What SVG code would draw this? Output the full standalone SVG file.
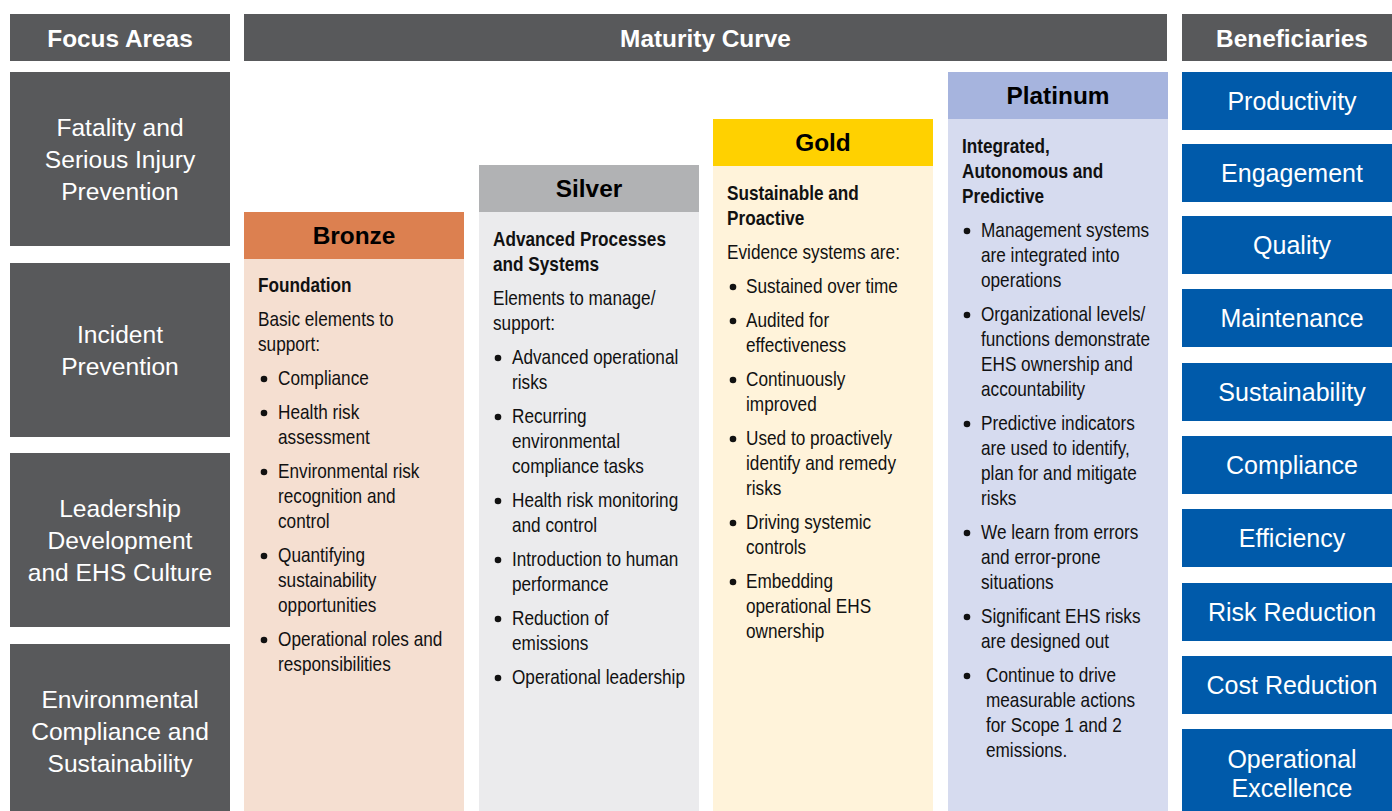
<svg xmlns="http://www.w3.org/2000/svg" width="1392" height="811" viewBox="0 0 1392 811">
  <style>
    .hdr { fill: #58595b; }
    .focus { fill: #58595b; }
    .ben { fill: #005aaa; }
    .hdr-t { font-family: "Liberation Sans", Arial, sans-serif; font-weight: bold; font-size: 24.4px; fill: #ffffff; text-anchor: middle; }
    .side-t { font-family: "Liberation Sans", Arial, sans-serif; font-size: 24.6px; fill: #ffffff; text-anchor: middle; }
    .ben-t { font-family: "Liberation Sans", Arial, sans-serif; font-size: 25px; fill: #ffffff; text-anchor: middle; }
    .tier-t { font-family: "Liberation Sans", Arial, sans-serif; font-weight: bold; font-size: 24.4px; fill: #000000; text-anchor: middle; }
    /* body copy is set in a condensed cut: regular Liberation Sans squeezed horizontally by the column group */
    .body { font-family: "Liberation Sans", Arial, sans-serif; font-size: 20px; fill: #111111; }
    .body-b { font-family: "Liberation Sans", Arial, sans-serif; font-size: 20px; font-weight: bold; fill: #111111; }
    .dot { fill: #111111; }
  </style>

  <rect x="0" y="0" width="1392" height="811" fill="#ffffff"/>

  <!-- Column headers -->
  <g id="header-focus">
    <rect class="hdr" x="10" y="14" width="220" height="47"/>
    <text class="hdr-t" x="120" y="47">Focus Areas</text>
  </g>
  <g id="header-maturity">
    <rect class="hdr" x="244" y="14" width="923" height="47"/>
    <text class="hdr-t" x="705.5" y="47">Maturity Curve</text>
  </g>
  <g id="header-beneficiaries">
    <rect class="hdr" x="1182" y="14" width="220" height="47"/>
    <text class="hdr-t" x="1292" y="47">Beneficiaries</text>
  </g>

  <!-- Focus areas -->
  <g id="focus-fatality">
    <rect class="focus" x="10" y="72" width="220" height="174"/>
    <text class="side-t" x="120" y="136">Fatality and</text>
    <text class="side-t" x="120" y="168">Serious Injury</text>
    <text class="side-t" x="120" y="200">Prevention</text>
  </g>
  <g id="focus-incident">
    <rect class="focus" x="10" y="263" width="220" height="174"/>
    <text class="side-t" x="120" y="343">Incident</text>
    <text class="side-t" x="120" y="375">Prevention</text>
  </g>
  <g id="focus-leadership">
    <rect class="focus" x="10" y="453" width="220" height="174"/>
    <text class="side-t" x="120" y="517">Leadership</text>
    <text class="side-t" x="120" y="549">Development</text>
    <text class="side-t" x="120" y="581">and EHS Culture</text>
  </g>
  <g id="focus-environmental">
    <rect class="focus" x="10" y="644" width="220" height="174"/>
    <text class="side-t" x="120" y="708">Environmental</text>
    <text class="side-t" x="120" y="740">Compliance and</text>
    <text class="side-t" x="120" y="772">Sustainability</text>
  </g>

  <!-- Bronze tier -->
  <g id="tier-bronze">
    <rect x="244" y="259" width="220" height="560" fill="#f5dfd1"/>
    <rect x="244" y="212" width="220" height="47" fill="#dc8050"/>
    <text class="tier-t" x="354" y="244">Bronze</text>
    <circle class="dot" cx="264" cy="379" r="3.3"/>
    <circle class="dot" cx="264" cy="413" r="3.3"/>
    <circle class="dot" cx="264" cy="472" r="3.3"/>
    <circle class="dot" cx="264" cy="556" r="3.3"/>
    <circle class="dot" cx="264" cy="640" r="3.3"/>
    <g transform="translate(258,0) scale(0.86,1)">
      <text class="body-b" x="0" y="292">Foundation</text>
      <text class="body" x="0" y="326">Basic elements to</text>
      <text class="body" x="0" y="351">support:</text>
      <text class="body" x="23.3" y="385">Compliance</text>
      <text class="body" x="23.3" y="419">Health risk</text>
      <text class="body" x="23.3" y="444">assessment</text>
      <text class="body" x="23.3" y="478">Environmental risk</text>
      <text class="body" x="23.3" y="503">recognition and</text>
      <text class="body" x="23.3" y="528">control</text>
      <text class="body" x="23.3" y="562">Quantifying</text>
      <text class="body" x="23.3" y="587">sustainability</text>
      <text class="body" x="23.3" y="612">opportunities</text>
      <text class="body" x="23.3" y="646">Operational roles and</text>
      <text class="body" x="23.3" y="671">responsibilities</text>
    </g>
  </g>

  <!-- Silver tier -->
  <g id="tier-silver">
    <rect x="479" y="212" width="220" height="607" fill="#ebebed"/>
    <rect x="479" y="165" width="220" height="47" fill="#b1b2b4"/>
    <text class="tier-t" x="589" y="197">Silver</text>
    <circle class="dot" cx="498" cy="358" r="3.3"/>
    <circle class="dot" cx="498" cy="417" r="3.3"/>
    <circle class="dot" cx="498" cy="501" r="3.3"/>
    <circle class="dot" cx="498" cy="560" r="3.3"/>
    <circle class="dot" cx="498" cy="619" r="3.3"/>
    <circle class="dot" cx="498" cy="678" r="3.3"/>
    <g transform="translate(493,0) scale(0.86,1)">
      <text class="body-b" x="0" y="246">Advanced Processes</text>
      <text class="body-b" x="0" y="271">and Systems</text>
      <text class="body" x="0" y="305">Elements to manage/</text>
      <text class="body" x="0" y="330">support:</text>
      <text class="body" x="22.1" y="364">Advanced operational</text>
      <text class="body" x="22.1" y="389">risks</text>
      <text class="body" x="22.1" y="423">Recurring</text>
      <text class="body" x="22.1" y="448">environmental</text>
      <text class="body" x="22.1" y="473">compliance tasks</text>
      <text class="body" x="22.1" y="507">Health risk monitoring</text>
      <text class="body" x="22.1" y="532">and control</text>
      <text class="body" x="22.1" y="566">Introduction to human</text>
      <text class="body" x="22.1" y="591">performance</text>
      <text class="body" x="22.1" y="625">Reduction of</text>
      <text class="body" x="22.1" y="650">emissions</text>
      <text class="body" x="22.1" y="684">Operational leadership</text>
    </g>
  </g>

  <!-- Gold tier -->
  <g id="tier-gold">
    <rect x="713" y="166" width="220" height="653" fill="#fff3da"/>
    <rect x="713" y="119" width="220" height="47" fill="#ffd100"/>
    <text class="tier-t" x="823" y="151">Gold</text>
    <circle class="dot" cx="733" cy="287" r="3.3"/>
    <circle class="dot" cx="733" cy="321" r="3.3"/>
    <circle class="dot" cx="733" cy="380" r="3.3"/>
    <circle class="dot" cx="733" cy="439" r="3.3"/>
    <circle class="dot" cx="733" cy="523" r="3.3"/>
    <circle class="dot" cx="733" cy="582" r="3.3"/>
    <g transform="translate(727,0) scale(0.86,1)">
      <text class="body-b" x="0" y="200">Sustainable and</text>
      <text class="body-b" x="0" y="225">Proactive</text>
      <text class="body" x="0" y="259">Evidence systems are:</text>
      <text class="body" x="22.1" y="293">Sustained over time</text>
      <text class="body" x="22.1" y="327">Audited for</text>
      <text class="body" x="22.1" y="352">effectiveness</text>
      <text class="body" x="22.1" y="386">Continuously</text>
      <text class="body" x="22.1" y="411">improved</text>
      <text class="body" x="22.1" y="445">Used to proactively</text>
      <text class="body" x="22.1" y="470">identify and remedy</text>
      <text class="body" x="22.1" y="495">risks</text>
      <text class="body" x="22.1" y="529">Driving systemic</text>
      <text class="body" x="22.1" y="554">controls</text>
      <text class="body" x="22.1" y="588">Embedding</text>
      <text class="body" x="22.1" y="613">operational EHS</text>
      <text class="body" x="22.1" y="638">ownership</text>
    </g>
  </g>

  <!-- Platinum tier -->
  <g id="tier-platinum">
    <rect x="948" y="119" width="220" height="700" fill="#d6dbef"/>
    <rect x="948" y="72" width="220" height="47" fill="#a6b4de"/>
    <text class="tier-t" x="1058" y="104">Platinum</text>
    <circle class="dot" cx="967" cy="231" r="3.3"/>
    <circle class="dot" cx="967" cy="315" r="3.3"/>
    <circle class="dot" cx="967" cy="424" r="3.3"/>
    <circle class="dot" cx="967" cy="533" r="3.3"/>
    <circle class="dot" cx="967" cy="617" r="3.3"/>
    <circle class="dot" cx="967" cy="676" r="3.3"/>
    <g transform="translate(962,0) scale(0.86,1)">
      <text class="body-b" x="0" y="153">Integrated,</text>
      <text class="body-b" x="0" y="178">Autonomous and</text>
      <text class="body-b" x="0" y="203">Predictive</text>
      <text class="body" x="22.1" y="237">Management systems</text>
      <text class="body" x="22.1" y="262">are integrated into</text>
      <text class="body" x="22.1" y="287">operations</text>
      <text class="body" x="22.1" y="321">Organizational levels/</text>
      <text class="body" x="22.1" y="346">functions demonstrate</text>
      <text class="body" x="22.1" y="371">EHS ownership and</text>
      <text class="body" x="22.1" y="396">accountability</text>
      <text class="body" x="22.1" y="430">Predictive indicators</text>
      <text class="body" x="22.1" y="455">are used to identify,</text>
      <text class="body" x="22.1" y="480">plan for and mitigate</text>
      <text class="body" x="22.1" y="505">risks</text>
      <text class="body" x="22.1" y="539">We learn from errors</text>
      <text class="body" x="22.1" y="564">and error-prone</text>
      <text class="body" x="22.1" y="589">situations</text>
      <text class="body" x="22.1" y="623">Significant EHS risks</text>
      <text class="body" x="22.1" y="648">are designed out</text>
      <text class="body" x="27.9" y="682">Continue to drive</text>
      <text class="body" x="27.9" y="707">measurable actions</text>
      <text class="body" x="27.9" y="732">for Scope 1 and 2</text>
      <text class="body" x="27.9" y="757">emissions.</text>
    </g>
  </g>

  <!-- Beneficiaries -->
  <g id="ben-productivity">
    <rect class="ben" x="1182" y="72" width="220" height="58"/>
    <text class="ben-t" x="1292" y="110">Productivity</text>
  </g>
  <g id="ben-engagement">
    <rect class="ben" x="1182" y="144" width="220" height="58"/>
    <text class="ben-t" x="1292" y="182">Engagement</text>
  </g>
  <g id="ben-quality">
    <rect class="ben" x="1182" y="216" width="220" height="58"/>
    <text class="ben-t" x="1292" y="254">Quality</text>
  </g>
  <g id="ben-maintenance">
    <rect class="ben" x="1182" y="289" width="220" height="58"/>
    <text class="ben-t" x="1292" y="327">Maintenance</text>
  </g>
  <g id="ben-sustainability">
    <rect class="ben" x="1182" y="363" width="220" height="58"/>
    <text class="ben-t" x="1292" y="401">Sustainability</text>
  </g>
  <g id="ben-compliance">
    <rect class="ben" x="1182" y="436" width="220" height="58"/>
    <text class="ben-t" x="1292" y="474">Compliance</text>
  </g>
  <g id="ben-efficiency">
    <rect class="ben" x="1182" y="509" width="220" height="58"/>
    <text class="ben-t" x="1292" y="547">Efficiency</text>
  </g>
  <g id="ben-risk">
    <rect class="ben" x="1182" y="583" width="220" height="58"/>
    <text class="ben-t" x="1292" y="621">Risk Reduction</text>
  </g>
  <g id="ben-cost">
    <rect class="ben" x="1182" y="656" width="220" height="58"/>
    <text class="ben-t" x="1292" y="694">Cost Reduction</text>
  </g>
  <g id="ben-excellence">
    <rect class="ben" x="1182" y="729" width="220" height="90"/>
    <text class="ben-t" x="1292" y="768">Operational</text>
    <text class="ben-t" x="1292" y="797">Excellence</text>
  </g>

  <!-- no connectors in this layout -->
  <g id="connectors"/>
</svg>
